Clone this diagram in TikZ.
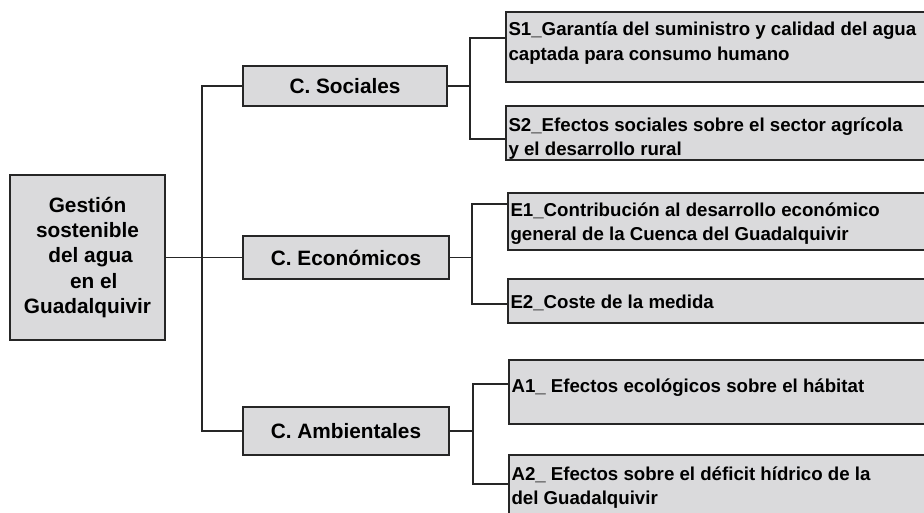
\documentclass[tikz,border=0pt]{standalone}
\usepackage{fontspec}
\setmainfont{Liberation Sans}
\usetikzlibrary{positioning,calc,shadows}
\definecolor{boxgray}{RGB}{218,218,220}
\definecolor{linegray}{RGB}{38,38,38}

% top aligned text in the criterion boxes
\newcommand{\toptext}[3]{\parbox[t][#1][t]{318pt}{\vspace*{#2}\strut #3}}

\begin{document}
\begin{tikzpicture}[x=0.75pt,y=-0.75pt,
		  box/.style={draw=linegray,fill=boxgray,line width=1.3pt,
		    drop shadow={shadow xshift=1pt,shadow yshift=-1pt,fill=black!25,opacity=1}},
		  mainbox/.style={box,minimum width=116.25pt,minimum height=123.75pt,align=center,
		    font=\bfseries\fontsize{15.6}{19}\selectfont},
		  catbox/.style={box,font=\bfseries\fontsize{15.6}{19}\selectfont},
		  itembox/.style={box,anchor=north west,inner sep=2pt,align=left,
		    font=\bfseries\fontsize{14}{18.3}\selectfont},
		  conn/.style={draw=linegray,line width=1.2pt}
		]
			\useasboundingbox (0,0) rectangle (924,513);
			\clip (0,0) rectangle (924,513);

			% the goal
			\node[mainbox] (main) at (87.5,257.5) {Gestión\\sostenible\\\hspace*{0.3em}del agua\\\hspace*{0.6em}en el\\Guadalquivir};

			% the criteria
			\node[catbox,minimum width=153pt,minimum height=30pt] (soc) at (345,86) {C. Sociales};
			\node[catbox,minimum width=154.5pt,minimum height=32.25pt] (eco) at (346,257.5) {C. Económicos};
			\node[catbox,minimum width=154.5pt,minimum height=36pt] (amb) at (346,431) {C. Ambientales};

			% the sub-criteria
			\node[itembox] (s1) at (505,11) {\toptext{48.5pt}{3.2pt}{S1\_Garantía del suministro y calidad del agua\\captada para consumo humano}};
			\node[itembox] (s2) at (505,105) {\toptext{36.5pt}{4.4pt}{S2\_Efectos sociales sobre el sector agrícola\\y el desarrollo rural}};
			\node[itembox] (e1) at (507,192) {\toptext{38.75pt}{2.6pt}{E1\_Contribución al desarrollo económico\\general de la Cuenca del Guadalquivir}};
			\node[itembox] (e2) at (507,278) {\toptext{29pt}{7.2pt}{E2\_Coste de la medida}};
			\node[itembox] (a1) at (508,359) {\toptext{44pt}{9.4pt}{A1\_ Efectos ecológicos sobre el hábitat}};
			\node[itembox] (a2) at (508,454) {\toptext{48.5pt}{4.3pt}{A2\_ Efectos sobre el déficit hídrico de la\\del Guadalquivir}};

			% the branch points
			\coordinate (trunk) at (202,258);
			\coordinate (bs) at ($(soc.east)+(22,0)$);
			\coordinate (be) at ($(eco.east)+(22,0)$);
			\coordinate (ba) at ($(amb.east)+(23,0)$);

			% the edges
			\draw[conn] (soc.west) -| (trunk) |- (amb.west);
			\draw[conn] (main.east) -- (eco.west);
			\draw[conn] (soc.east) -- (bs);
			\draw[conn] ([yshift=-20.25pt]s1.north west) -| (bs) |- ([yshift=-25.5pt]s2.north west);
			\draw[conn] (eco.east) -- (be);
			\draw[conn] ([yshift=-9pt]e1.north west) -| (be) |- ([yshift=-19.5pt]e2.north west);
			\draw[conn] (amb.east) -- (ba);
			\draw[conn] ([yshift=-18.75pt]a1.north west) -| (ba) |- ([yshift=-22.5pt]a2.north west);

		\end{tikzpicture}
\end{document}
